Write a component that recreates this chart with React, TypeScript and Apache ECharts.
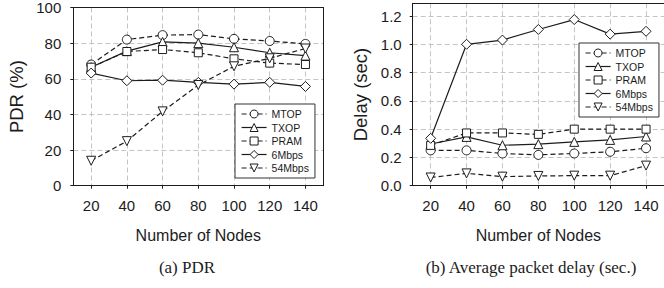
import React, { useEffect, useRef } from "react";
import * as echarts from "echarts";

const nodes = [20, 40, 60, 80, 100, 120, 140];
const seriesNames = ["MTOP", "TXOP", "PRAM", "6Mbps", "54Mbps"];

const pdrMTOP = [68, 82, 84.5, 84.8, 82.4, 81.2, 79.6];
const pdrTXOP = [66.5, 75.5, 80.7, 80, 77.7, 74.6, 73];
const pdrPRAM = [66.5, 75.3, 76.4, 74.6, 71.2, 68.8, 68];
const pdr6Mbps = [63.2, 58.9, 59.2, 58, 57, 58, 55.7];
const pdr54Mbps = [14, 25, 41.7, 56.5, 67, 71.5, 77];

const delayMTOP = [0.25, 0.25, 0.228, 0.218, 0.228, 0.24, 0.265];
const delayTXOP = [0.295, 0.345, 0.286, 0.294, 0.31, 0.324, 0.348];
const delayPRAM = [0.285, 0.373, 0.373, 0.363, 0.4, 0.4, 0.4];
const delay6Mbps = [0.335, 1.0, 1.03, 1.105, 1.175, 1.072, 1.092];
const delay54Mbps = [0.058, 0.087, 0.064, 0.069, 0.071, 0.071, 0.142];

const pdrTicks = [0, 20, 40, 60, 80, 100];
const delayTicks = [0, 0.2, 0.4, 0.6, 0.8, 1.0, 1.2];

const captionA = "(a) PDR";
const captionB = "(b) Average packet delay (sec.)";

const INK = "#1c1c1c";
const GRIDC = "#c4c4c4";

const styles: Record<string, { symbol: string; rotate: number; dashed: boolean }> = {
  MTOP: { symbol: "circle", rotate: 0, dashed: true },
  TXOP: { symbol: "triangle", rotate: 0, dashed: false },
  PRAM: { symbol: "rect", rotate: 0, dashed: true },
  "6Mbps": { symbol: "diamond", rotate: 0, dashed: false },
  "54Mbps": { symbol: "triangle", rotate: 180, dashed: true },
};

function makeSeries(name: string, values: number[], idx: number) {
  const s = styles[name];
  return {
    name,
    type: "line",
    xAxisIndex: idx,
    yAxisIndex: idx,
    data: nodes.map((n, i) => [n, values[i]]),
    symbol: s.symbol,
    symbolRotate: s.rotate,
    symbolSize: name === "PRAM" ? 8 : name === "6Mbps" ? 10 : 9,
    showAllSymbol: true,
    lineStyle: { color: INK, width: 1.2, type: s.dashed ? [5, 3] : "solid" },
    itemStyle: { color: "#ffffff", borderColor: INK, borderWidth: 1 },
    emphasis: { disabled: true },
    z: 3,
  };
}

function xAxisFor(idx: number) {
  return {
    type: "value",
    gridIndex: idx,
    min: 10,
    max: 150,
    splitNumber: 7,
    name: "Number of Nodes",
    nameLocation: "middle",
    nameGap: 42,
    nameTextStyle: { fontFamily: "Liberation Sans", fontSize: 16, color: INK },
    axisLine: { show: true, lineStyle: { color: INK, width: 1 } },
    axisTick: { show: true, length: 3, lineStyle: { color: INK } },
    axisLabel: {
      fontFamily: "Liberation Sans",
      fontSize: 15,
      color: INK,
      margin: 12,
      showMinLabel: false,
      showMaxLabel: false,
    },
    splitLine: { show: true, lineStyle: { color: GRIDC, type: [5, 3], width: 1 } },
  };
}

function frameX(idx: number) {
  return {
    type: "value",
    gridIndex: idx,
    position: "top",
    min: 10,
    max: 150,
    axisLine: { show: true, onZero: false, lineStyle: { color: INK, width: 1 } },
    axisTick: { show: false },
    axisLabel: { show: false },
    splitLine: { show: false },
    z: 5,
  };
}

function frameY(idx: number) {
  return {
    type: "value",
    gridIndex: idx,
    position: "right",
    min: 0,
    max: 1,
    axisLine: { show: true, onZero: false, lineStyle: { color: INK, width: 1 } },
    axisTick: { show: false },
    axisLabel: { show: false },
    splitLine: { show: false },
    z: 5,
  };
}

function legendFor(left: number, top: number) {
  return {
    orient: "vertical",
    left,
    top,
    data: seriesNames,
    itemWidth: 25,
    itemHeight: 10,
    itemGap: 1.5,
    padding: [4, 6, 4, 6],
    borderColor: "#333",
    borderWidth: 1,
    borderRadius: 0,
    backgroundColor: "#ffffff",
    selectedMode: false,
    itemStyle: { borderWidth: 1, borderColor: INK, color: "#ffffff" },
    lineStyle: { width: 1.2, color: INK },
    textStyle: { fontFamily: "Liberation Sans", fontSize: 10.5, lineHeight: 12, color: INK },
    z: 10,
  };
}

export default function App() {
  const ref = useRef<HTMLDivElement>(null);
  useEffect(() => {
    if (!ref.current) return;
    const chart = echarts.init(ref.current, null, { renderer: "svg" });
    const option = {
      animation: false,
      backgroundColor: "#ffffff",
      grid: [
        { left: 73.3, top: 6.5, right: 340.7, bottom: 102.3, containLabel: false },
        { left: 412.7, top: 3.3, right: -2, bottom: 102.3, containLabel: false },
      ],
      xAxis: [xAxisFor(0), xAxisFor(1), frameX(0), frameX(1)],
      yAxis: [
        {
          type: "value",
          gridIndex: 0,
          min: pdrTicks[0],
          max: pdrTicks[pdrTicks.length - 1],
          interval: pdrTicks[1] - pdrTicks[0],
          name: "PDR (%)",
          nameLocation: "middle",
          nameGap: 47,
          nameTextStyle: { fontFamily: "Liberation Sans", fontSize: 18.5, color: INK },
          axisLine: { show: true, lineStyle: { color: INK } },
          axisTick: { show: true, length: 3, lineStyle: { color: INK } },
          axisLabel: { fontFamily: "Liberation Sans", fontSize: 15, color: INK, margin: 12 },
          splitLine: { show: true, lineStyle: { color: GRIDC, type: [5, 3] } },
        },
        {
          type: "value",
          gridIndex: 1,
          min: delayTicks[0],
          max: 1.29,
          interval: delayTicks[1] - delayTicks[0],
          name: "Delay (sec)",
          nameLocation: "middle",
          nameGap: 43,
          nameTextStyle: { fontFamily: "Liberation Sans", fontSize: 18.5, color: INK },
          axisLine: { show: true, lineStyle: { color: INK } },
          axisTick: { show: true, length: 3, lineStyle: { color: INK } },
          axisLabel: {
            fontFamily: "Liberation Sans",
            fontSize: 15,
            color: INK,
            margin: 11,
            showMaxLabel: false,
            formatter: (v: number) => (delayTicks.some((t) => Math.abs(t - v) < 1e-6) ? v.toFixed(1) : ""),
          },
          splitLine: { show: true, lineStyle: { color: GRIDC, type: [5, 3] } },
        },
        frameY(0),
        frameY(1),
      ],
      legend: [legendFor(235, 104), legendFor(579, 43)],
      series: [
        makeSeries("MTOP", pdrMTOP, 0),
        makeSeries("TXOP", pdrTXOP, 0),
        makeSeries("PRAM", pdrPRAM, 0),
        makeSeries("6Mbps", pdr6Mbps, 0),
        makeSeries("54Mbps", pdr54Mbps, 0),
        makeSeries("MTOP", delayMTOP, 1),
        makeSeries("TXOP", delayTXOP, 1),
        makeSeries("PRAM", delayPRAM, 1),
        makeSeries("6Mbps", delay6Mbps, 1),
        makeSeries("54Mbps", delay54Mbps, 1),
      ],
      graphic: [
        {
          type: "text",
          x: 187,
          y: 259,
          style: { text: captionA, fontFamily: "Liberation Serif", fontSize: 17, fill: INK, textAlign: "center" },
        },
        {
          type: "text",
          x: 531,
          y: 259,
          style: { text: captionB, fontFamily: "Liberation Serif", fontSize: 17, fill: INK, textAlign: "center" },
        },
      ],
    };
    chart.setOption(option as any);
    return () => chart.dispose();
  }, []);
  return (
    <div
      ref={ref}
      style={{ position: "fixed", left: 0, top: 0, width: 664, height: 288, background: "#fff" }}
    />
  );
}
